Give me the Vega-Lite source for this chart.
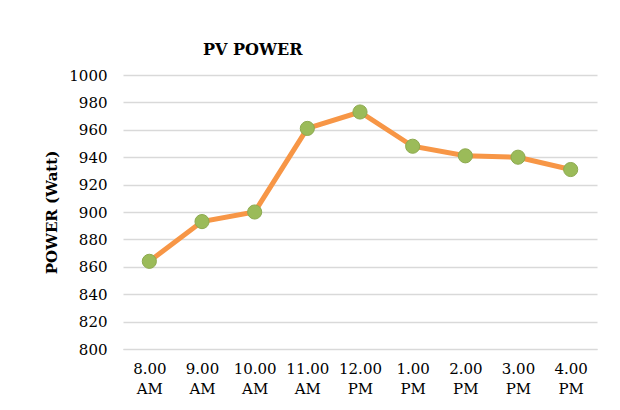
{
  "$schema": "https://vega.github.io/schema/vega-lite/v6.json",
  "width": 474,
  "height": 274,
  "autosize": {"type": "none"},
  "padding": {"left": 123, "top": 75, "right": 23, "bottom": 61},
  "background": "white",
  "config": {
    "view": {"stroke": null},
    "font": "DejaVu Serif"
  },
  "title": {
    "text": "PV POWER",
    "font": "DejaVu Serif",
    "fontSize": 16,
    "fontWeight": "bold",
    "color": "#000000",
    "anchor": "start",
    "frame": "group",
    "dx": 80,
    "offset": 10
  },
  "data": {
    "values": [
      {"time": "8.00 AM", "power": 864},
      {"time": "9.00 AM", "power": 893},
      {"time": "10.00 AM", "power": 900},
      {"time": "11.00 AM", "power": 961},
      {"time": "12.00 PM", "power": 973},
      {"time": "1.00 PM", "power": 948},
      {"time": "2.00 PM", "power": 941},
      {"time": "3.00 PM", "power": 940},
      {"time": "4.00 PM", "power": 931}
    ]
  },
  "encoding": {
    "x": {
      "field": "time",
      "type": "nominal",
      "sort": null,
      "scale": {"paddingInner": 0, "paddingOuter": 0.5},
      "axis": {
        "title": null,
        "labelAngle": 0,
        "labelExpr": "split(datum.label, ' ')",
        "labelFont": "DejaVu Serif",
        "labelFontSize": 15,
        "labelColor": "#000000",
        "labelPadding": 12,
        "labelLineHeight": 20,
        "ticks": false,
        "domain": true,
        "domainColor": "#D9D9D9",
        "domainWidth": 1,
        "grid": false
      }
    },
    "y": {
      "field": "power",
      "type": "quantitative",
      "scale": {"domain": [800, 1000], "nice": false, "zero": false},
      "axis": {
        "title": "POWER (Watt)",
        "titleFont": "DejaVu Serif",
        "titleFontSize": 15,
        "titleFontWeight": "bold",
        "titleColor": "#000000",
        "titlePadding": 9,
        "values": [800, 820, 840, 860, 880, 900, 920, 940, 960, 980, 1000],
        "format": "d",
        "labelFont": "DejaVu Serif",
        "labelFontSize": 15,
        "labelColor": "#000000",
        "labelPadding": 16,
        "ticks": false,
        "domain": false,
        "grid": true,
        "gridColor": "#D9D9D9",
        "gridWidth": 1.5
      }
    }
  },
  "layer": [
    {
      "mark": {"type": "line", "color": "#F79646", "strokeWidth": 5}
    },
    {
      "mark": {"type": "point", "filled": true, "size": 200, "color": "#9BBB59", "stroke": "#8DAA4F", "strokeWidth": 1, "opacity": 1}
    }
  ]
}
